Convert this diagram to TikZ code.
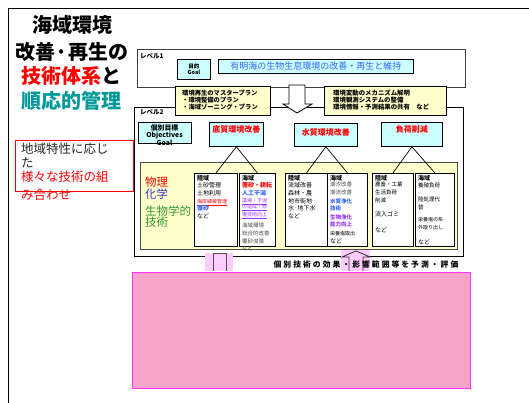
\documentclass[tikz,border=0pt]{standalone}
\usepackage{fontspec}
\setmainfont{Noto Sans CJK JP}[AutoFakeSlant=0.2]
\newcommand\fsz[2]{\fontsize{#1}{#2}\selectfont}
\definecolor{cyanfill}{RGB}{204,255,255}
\definecolor{notefill}{RGB}{255,255,204}
\definecolor{goalblue}{RGB}{51,102,255}
\definecolor{teal2}{RGB}{0,153,153}
\definecolor{chemblue}{RGB}{51,51,204}
\definecolor{biogreen}{RGB}{51,153,51}
\definecolor{violet2}{RGB}{153,51,255}
\definecolor{pinkbg}{RGB}{255,204,255}
\definecolor{pinkfill}{RGB}{248,164,202}
\definecolor{pinkline}{RGB}{255,51,255}

\begin{document}
\begin{tikzpicture}[x=1pt,y=-1pt]
\tikzstyle{every node}+=[inner sep=0pt]
\tikzstyle{panel}=[draw=black,line width=0.8pt,anchor=north west]
\tikzstyle{cyanbox}=[panel,fill=cyanfill]
\tikzstyle{notebox}=[panel,fill=notefill]
\tikzstyle{techcol}=[panel,fill=white,line width=0.9pt]
\tikzstyle{headtxt}=[anchor=north,yshift=-3.5pt,text=red,font=\bfseries\fsz{8}{9}]
\tikzstyle{coltxt}=[anchor=north west,align=left,font=\fsz{6}{7.6}]
\useasboundingbox (0,0) rectangle (529,403);
\fill[white] (0,0) rectangle (529,403);
\draw[line width=1pt] (8,403) -- (8,9) -- (529,9);
\node[font=\bfseries\fsz{20}{24}] (title1) at (72,25) {海域環境};
\node[font=\bfseries\fsz{20}{24}] (title2) at (72,52) {改善·再生の};
\node[font=\bfseries\fsz{20}{24}] (title3) at (71,76) {\color{red}技術体系\color{black}と};
\node[font=\bfseries\fsz{20}{24},text=teal2] (title4) at (71,101) {順応的管理};
\node[panel,draw=red,minimum width=118,minimum height=51] (areabox) at (15,140) {};
\node[anchor=west,font=\fsz{12.5}{14},text=black!85] (area1) at (21,149) {地域特性に応じ};
\node[anchor=west,font=\fsz{12.5}{14},text=black!85] (area2) at (21,163) {た};
\node[anchor=west,font=\fsz{12.5}{14},text=red] (area3) at (21,177) {様々な技術の組};
\node[anchor=west,font=\fsz{12.5}{14},text=red] (area4) at (21,195) {み合わせ};
\node[panel,draw=black!75,minimum width=328,minimum height=38] (lv1) at (137,49) {};
\node[anchor=west,font=\bfseries\fsz{6.5}{7}] (lv1lab) at (140,56) {レベル1};
\node[cyanbox,minimum width=33,minimum height=20,align=center,font=\bfseries\fsz{5.5}{6.5}] (goal) at (177,59) {目的\\Goal};
\node[cyanbox,minimum width=195,minimum height=14,font=\fsz{9}{10},text=goalblue] (goaltxt) at (218,59) {有明海の生物生息環境の改善・再生と維持};
\node[panel,minimum width=329,minimum height=149] (lv2) at (134,107) {};
\node[anchor=west,font=\bfseries\fsz{6.5}{7}] (lv2lab) at (140,112) {レベル2};
\draw[line width=0.8pt,fill=white] (289,85) -- (305,85) -- (305,104) -- (312,104) -- (297,113) -- (283,104) -- (289,104) -- cycle;
\node[notebox,minimum width=95,minimum height=29] (plan) at (175,86) {};
\node[anchor=west,align=left,font=\bfseries\fsz{6.3}{7.2}] (plantxt) at (182,100) {環境再生のマスタープラン\\・環境整備のプラン\\・海域ゾーニング・プラン};
\node[notebox,minimum width=122,minimum height=29] (study) at (324,86) {};
\node[anchor=west,align=left,font=\bfseries\fsz{6.4}{7.2}] (studytxt) at (333,100) {環境変動のメカニズム解明\\環境観測システムの整備\\環境情報・予測結果の共有\quad など};
\node[cyanbox,minimum width=53,minimum height=21] (obj) at (138,122) {};
\node[anchor=north,align=center,font=\bfseries\fsz{6.8}{7.6}] (objtxt) at (164.5,124) {個別目標\\Objectives\\Goal};
\node[cyanbox,minimum width=54,minimum height=24,label={[headtxt]north:底質環境改善}] (head1) at (209,122) {};
\node[cyanbox,minimum width=63,minimum height=23,label={[headtxt,yshift=-2pt]north:水質環境改善}] (head2) at (294,123) {};
\node[cyanbox,minimum width=61,minimum height=24,label={[headtxt]north:負荷削減}] (head3) at (381,122) {};
\node[notebox,draw=black!70,minimum width=317,minimum height=87] (tech) at (140,162) {};
\node[anchor=west,font=\fsz{11.5}{13},text=red] (phys) at (145,182) {物理};
\node[anchor=west,font=\fsz{11.5}{13},text=chemblue] (chem) at (145,194) {化学};
\node[anchor=west,font=\fsz{11.5}{13},text=biogreen] (bio1) at (145,211) {生物学的};
\node[anchor=west,font=\fsz{11.5}{13},text=biogreen] (bio2) at (145,222) {技術};
\node[techcol,minimum width=43,minimum height=73] (col1) at (194,173) {};
\node[techcol,minimum width=36,minimum height=73] (col2) at (239,173) {};
\node[techcol,minimum width=42,minimum height=73] (col3) at (285,173) {};
\node[techcol,minimum width=40,minimum height=73] (col4) at (327,173) {};
\node[techcol,minimum width=41,minimum height=73] (col5) at (372,173) {};
\node[techcol,minimum width=39,minimum height=73] (col6) at (415,173) {};
\draw[line width=0.7pt] (head1.south) -- (col1.north);
\draw[line width=0.7pt] (head1.south) -- (col2.north);
\draw[line width=0.7pt] (head2.south) -- (col3.north);
\draw[line width=0.7pt] (head2.south) -- (col4.north);
\draw[line width=0.7pt] (head3.south) -- (col5.north);
\draw[line width=0.7pt] (head3.south) -- (col6.north);
\node[coltxt] (col1txt) at (197,175) {\textbf{陸域}\\土砂管理\\土地利用\\{\color{red}\fsz{5}{6}\underline{海岸緑被管理}}\\{\color{goalblue}\bfseries 覆砂}\\など};
\node[coltxt] (col2txt) at (242,175) {\textbf{海域}\\{\color{red}\bfseries\itshape 覆砂・耕耘}\\{\color{goalblue}\bfseries\itshape 人工干潟}\\[-1pt]{\color{violet2}\fsz{5}{5.5}\underline{藻場・干潟}}\\[-1pt]{\color{violet2}\fsz{5}{5.5}\underline{の造成・修}}\\{\color{violet2}\fsz{5}{5.5}\underline{復技術向上}}\\[4pt]{\color{black!70}\fsz{5.5}{5.3}海域環境}\\{\color{black!70}\fsz{5.5}{5.3}総合的改善}\\{\color{black!70}\fsz{5.5}{5.3}覆砂浚渫}\\{\color{black!70}\fsz{5.5}{5.3}など}};
\node[coltxt] (col3txt) at (288,175) {\textbf{陸域}\\流域改善\\森林・農\\地市街地\\水·地下水\\など};
\node[coltxt] (col4txt) at (330,175) {\textbf{海域}\\[-1pt]{\color{black!70}\fsz{5.5}{5}潮汐改善}\\{\color{black!70}\fsz{5.5}{5}潮流改善}\\[1pt]{\color{goalblue}\bfseries\itshape\fsz{5.5}{5.5}水質浄化}\\{\color{goalblue}\bfseries\itshape\fsz{5.5}{5.5}技術}\\[1pt]{\color{violet2}\bfseries\itshape\fsz{5.5}{5.5}生物浄化}\\{\color{violet2}\bfseries\itshape\fsz{5.5}{5.5}能力向上}\\[1pt]{\fsz{5}{6}栄養塩取出}\\など};
\node[coltxt] (col5txt) at (375,175) {\textbf{陸域}\\[-1pt]{\fsz{5.5}{4.8}農畜・工業}\\{\fsz{5.5}{4.8}生活負荷}\\{\fsz{5.5}{4.8}削減}\\[7pt]流入ゴミ\\[8pt]など};
\node[coltxt] (col6txt) at (418,175) {\textbf{海域}\\{\fsz{5.5}{6}養殖負荷}\\[6pt]{\fsz{5.5}{4.5}陸処理代}\\{\fsz{5.5}{4.5}替}\\[5pt]{\fsz{5}{4.5}栄養塩の系}\\{\fsz{5}{4.5}外取り出し}\\[8pt]など};
\fill[pinkbg] (205,253) rectangle (233,271);
\draw[black!70,line width=0.8pt] (213,271) -- (213,253) -- (226,253) -- (226,271);
\fill[pinkbg] (341,250) rectangle (370,271);
\draw[black!80,line width=0.8pt,fill=pinkbg] (349,271) -- (349,257) -- (342,257) -- (356,251) -- (370,257) -- (363,257) -- (363,271);
\node[font=\bfseries\fsz{7.8}{8}\addfontfeature{LetterSpace=26}] (evaltxt) at (366,265) {個別技術の効果・影響範囲等を予測・評価};
\node[panel,draw=pinkline,fill=pinkfill,line width=1pt,minimum width=338,minimum height=116] (sim) at (132,272) {};
\end{tikzpicture}
\end{document}
